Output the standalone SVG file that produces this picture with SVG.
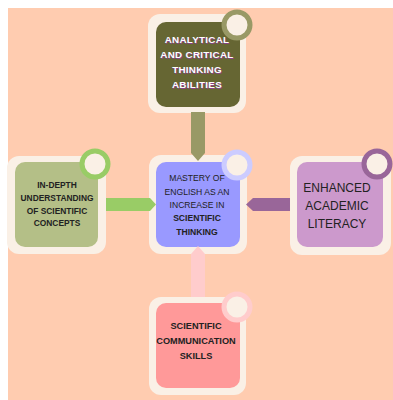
<svg xmlns="http://www.w3.org/2000/svg" width="393" height="400" viewBox="0 0 393 400">
<style>
.outer{fill:#FAF0E6}
.ring{fill:#FAF0E6;stroke-width:5}
.t{font-family:"Liberation Sans",Arial,sans-serif;text-anchor:middle;fill:#222}
.b{font-weight:bold}
</style>
<rect x="0" y="0" width="393" height="400" fill="#FFFFFF"/>
<rect x="8" y="8" width="385" height="392" fill="#FFCCB0"/>
<g id="node-top">
<rect class="outer" x="148" y="14" width="98" height="99" rx="12"/>
<rect x="156" y="22" width="84" height="85" rx="10" fill="#666633"/>
<circle class="ring" cx="237" cy="25" r="13" stroke="#999966"/>
<g class="t b" font-size="9.8" letter-spacing="0.3">
<g fill="#884488" transform="translate(0.8,0.8)">
<text x="197" y="43">ANALYTICAL</text>
<text x="197" y="58">AND CRITICAL</text>
<text x="197" y="73">THINKING</text>
<text x="197" y="88">ABILITIES</text>
</g>
<g fill="#FFFFFF">
<text x="197" y="43" fill="#FFFFFF">ANALYTICAL</text>
<text x="197" y="58" fill="#FFFFFF">AND CRITICAL</text>
<text x="197" y="73" fill="#FFFFFF">THINKING</text>
<text x="197" y="88" fill="#FFFFFF">ABILITIES</text>
</g>
</g>
</g>
<g id="node-left">
<rect class="outer" x="7" y="156" width="99" height="98" rx="12"/>
<rect x="15" y="162" width="83" height="85" rx="10" fill="#B4BF87"/>
<circle class="ring" cx="95" cy="164" r="13" stroke="#99CC66"/>
<g class="t b" font-size="8.4">
<text x="57" y="188">IN-DEPTH</text>
<text x="57" y="200.5">UNDERSTANDING</text>
<text x="57" y="213.5">OF SCIENTIFIC</text>
<text x="57" y="226">CONCEPTS</text>
</g>
</g>
<g id="node-center">
<rect class="outer" x="149" y="155" width="98" height="99" rx="12"/>
<rect x="156" y="162" width="84" height="85" rx="10" fill="#9999FF"/>
<circle class="ring" cx="237" cy="165" r="13" stroke="#CCCCFF"/>
<g class="t" font-size="8.6">
<text x="197" y="181">MASTERY OF</text>
<text x="197" y="194.5">ENGLISH AS AN</text>
<text x="197" y="208">INCREASE IN</text>
<text class="b" x="197" y="220.5">SCIENTIFIC</text>
<text class="b" x="197" y="234.5">THINKING</text>
</g>
</g>
<g id="node-right">
<rect class="outer" x="290" y="156" width="101" height="99" rx="12"/>
<rect x="297" y="162" width="86" height="85" rx="10" fill="#CC99CC"/>
<circle class="ring" cx="377" cy="164" r="13" stroke="#996699"/>
<g class="t" font-size="12">
<text x="337" y="192">ENHANCED</text>
<text x="337" y="210">ACADEMIC</text>
<text x="337" y="227.5">LITERACY</text>
</g>
</g>
<g id="node-bottom">
<rect class="outer" x="149" y="297" width="97" height="98" rx="12"/>
<rect x="156" y="303" width="84" height="85" rx="10" fill="#FF9999"/>
<circle class="ring" cx="237" cy="307" r="13" stroke="#FFCCCC"/>
<g class="t b" font-size="9.2">
<text x="196" y="329">SCIENTIFIC</text>
<text x="196" y="343.5">COMMUNICATION</text>
<text x="196" y="358.5">SKILLS</text>
</g>
</g>
<g id="connectors">
<polygon points="191,112 205,112 205,153 198,161 191,153" fill="#999966"/>
<polygon points="106,198 150,198 156,204.5 150,211 106,211" fill="#99CC66"/>
<polygon points="290,198 253,198 246,204.5 253,211 290,211" fill="#996699"/>
<polygon points="191,297 191,254 198,246 205,254 205,297" fill="#FFCCCC"/>
</g>
</svg>
